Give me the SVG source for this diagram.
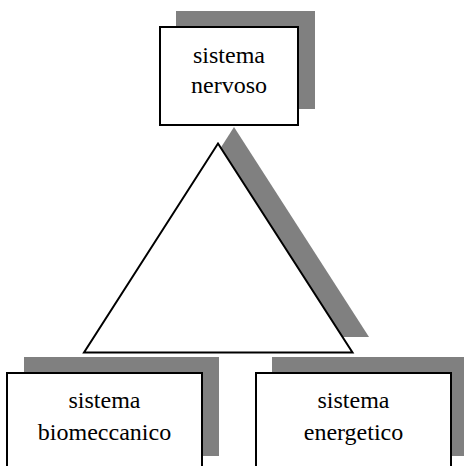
<svg xmlns="http://www.w3.org/2000/svg" width="464" height="466" viewBox="0 0 464 466">
<style>
.shadow{fill:#808080;stroke:none}
.box{fill:#fff;stroke:#000;stroke-width:2}
.lbl{font-family:"Liberation Serif","Times New Roman",serif;font-size:24px;fill:#000;text-anchor:middle}
</style>
<rect width="464" height="466" fill="#fff"/>
<g id="triangle">
<polygon class="shadow" points="234,127 369,337 100,337"/>
<polygon class="box" points="218,143.5 352.5,352.5 84,352.5" stroke-linejoin="miter"/>
</g>
<g id="node-nervoso">
<rect class="shadow" x="176" y="11" width="139" height="98"/>
<rect class="box" x="160" y="27" width="138" height="98"/>
<text class="lbl" x="229" y="63">sistema</text>
<text class="lbl" x="229" y="93">nervoso</text>
</g>
<g id="node-biomeccanico">
<rect class="shadow" x="24" y="357" width="195" height="99"/>
<rect class="box" x="7" y="373" width="195" height="99"/>
<text class="lbl" x="104.5" y="408">sistema</text>
<text class="lbl" x="104.5" y="440">biomeccanico</text>
</g>
<g id="node-energetico">
<rect class="shadow" x="272" y="357" width="195" height="99"/>
<rect class="box" x="256" y="373" width="195" height="99"/>
<text class="lbl" x="353.5" y="408">sistema</text>
<text class="lbl" x="353.5" y="440">energetico</text>
</g>
<g id="connectors"></g>
</svg>
